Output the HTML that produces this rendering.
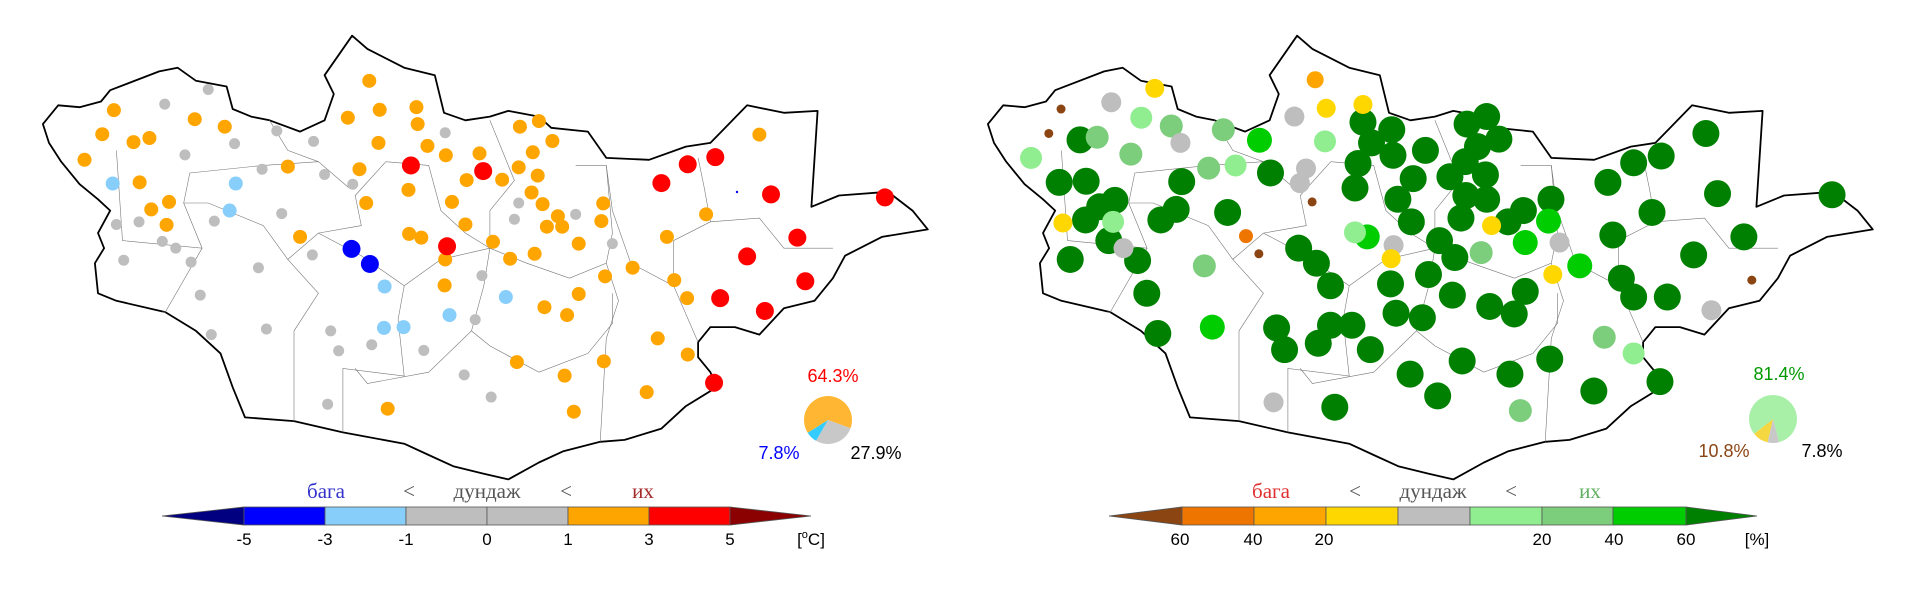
<!DOCTYPE html>
<html><head><meta charset="utf-8">
<style>
html,body{margin:0;padding:0;background:#fff;}
svg{display:block;}
text{font-family:"Liberation Sans",sans-serif;}
.t text{font-family:"Liberation Serif","DejaVu Serif",serif;font-size:21px;}
</style></head>
<body>
<svg id="s" width="1920" height="590" viewBox="0 0 1920 590" xmlns="http://www.w3.org/2000/svg">
<g id="maps"></g>
<g stroke="#555" stroke-width="0.8">
<polygon points="162,516 244,507 244,525" fill="#000080"/>
<rect x="244" y="507" width="81" height="18" fill="#0000FF"/>
<rect x="325" y="507" width="81" height="18" fill="#87CEFA"/>
<rect x="406" y="507" width="81" height="18" fill="#BEBEBE"/>
<rect x="487" y="507" width="81" height="18" fill="#BEBEBE"/>
<rect x="568" y="507" width="81" height="18" fill="#FFA500"/>
<rect x="649" y="507" width="81" height="18" fill="#FF0000"/>
<polygon points="730,507 811,516 730,525" fill="#8B0000"/>
</g>
<g font-size="17" text-anchor="middle" fill="#000">
<text x="244" y="545">-5</text><text x="325" y="545">-3</text><text x="406" y="545">-1</text>
<text x="487" y="545">0</text><text x="568" y="545">1</text><text x="649" y="545">3</text><text x="730" y="545">5</text>
<text x="811" y="545">[<tspan font-size="11" dy="-7">o</tspan><tspan dy="7">C]</tspan></text>
</g>
<g class="t" text-anchor="middle">
<text x="326" y="498" fill="#3333CC">бага</text>
<text x="409" y="498" fill="#555">&lt;</text>
<text x="487" y="498" fill="#555">дундаж</text>
<text x="566" y="498" fill="#555">&lt;</text>
<text x="643" y="498" fill="#A52A2A">их</text>
</g>
<g stroke="#555" stroke-width="0.8">
<polygon points="1109,516 1182,507 1182,525" fill="#8B4513"/>
<rect x="1182" y="507" width="72" height="18" fill="#EE7600"/>
<rect x="1254" y="507" width="72" height="18" fill="#FFA500"/>
<rect x="1326" y="507" width="72" height="18" fill="#FFD700"/>
<rect x="1398" y="507" width="72" height="18" fill="#BEBEBE"/>
<rect x="1470" y="507" width="72" height="18" fill="#90EE90"/>
<rect x="1542" y="507" width="71" height="18" fill="#7CCD7C"/>
<rect x="1613" y="507" width="73" height="18" fill="#00CD00"/>
<polygon points="1686,507 1757,516 1686,525" fill="#008000"/>
</g>
<g font-size="17" text-anchor="middle" fill="#000">
<text x="1180" y="545">60</text><text x="1253" y="545">40</text><text x="1324" y="545">20</text>
<text x="1542" y="545">20</text><text x="1614" y="545">40</text><text x="1686" y="545">60</text>
<text x="1757" y="545">[%]</text>
</g>
<g class="t" text-anchor="middle">
<text x="1271" y="498" fill="#E03030">бага</text>
<text x="1355" y="498" fill="#555">&lt;</text>
<text x="1433" y="498" fill="#555">дундаж</text>
<text x="1511" y="498" fill="#555">&lt;</text>
<text x="1590" y="498" fill="#5FB05F">их</text>
</g>
<g font-size="18" text-anchor="middle">
<text x="833" y="382" fill="#FF0000">64.3%</text>
<text x="779" y="459" fill="#0000FF">7.8%</text>
<text x="876" y="459" fill="#000">27.9%</text>
<text x="1779" y="380" fill="#009900">81.4%</text>
<text x="1724" y="457" fill="#8B4513">10.8%</text>
<text x="1822" y="457" fill="#000">7.8%</text>
</g>
<g id="pies"></g>
</svg>
<script>
var NS="http://www.w3.org/2000/svg";
function el(t,a,p){var e=document.createElementNS(NS,t);for(var k in a)e.setAttribute(k,a[k]);p.appendChild(e);return e;}
var sx=0.6124, sy=0.376;
var ol=[[70,330],[95,280],[130,285],[165,270],[180,240],[260,190],[290,180],[320,215],[370,230],[380,290],[410,310],[440,320],[490,350],[530,320],[545,250],[530,200],[575,95],[600,130],[660,180],[710,200],[725,300],[760,320],[800,310],[830,295],[880,310],[900,340],[960,350],[990,420],[1060,425],[1120,390],[1160,380],[1220,280],[1280,300],[1335,295],[1325,550],[1370,520],[1450,510],[1490,560],[1515,610],[1440,630],[1380,680],[1360,740],[1330,800],[1280,820],[1240,890],[1200,870],[1160,870],[1140,910],[1140,950],[1160,990],[1170,1030],[1120,1080],[1080,1140],[1020,1170],[980,1175],[920,1200],[880,1230],[830,1275],[790,1260],[740,1240],[700,1210],[660,1180],[560,1150],[480,1120],[400,1110],[380,1030],[360,940],[320,880],[270,830],[190,800],[160,780],[155,700],[170,660],[160,620],[180,560],[160,530],[130,490],[100,430],[80,380]];
var inner=[
[[190,400],[200,640],[330,660],[300,540],[340,540],[430,600],[470,690],[520,620],[590,600],[580,520],[630,430]],
[[300,540],[310,460],[430,440],[520,430],[570,500]],
[[440,320],[470,400],[520,430]],
[[330,660],[270,830],[265,830]],
[[470,690],[520,780],[480,880],[480,1120]],
[[520,620],[590,680],[660,760],[650,850],[660,1000],[560,980],[560,1150]],
[[660,760],[720,690],[800,660],[790,760],[770,880],[700,990],[600,1020],[580,980]],
[[630,430],[700,440],[720,560],[760,620],[800,660],[800,560],[840,480],[800,320]],
[[800,660],[860,700],[930,740],[990,700],[1000,620],[990,440],[940,440]],
[[990,700],[1010,800],[990,900],[980,1175]],
[[770,880],[800,920],[880,990],[960,940],[1000,860],[1000,780]],
[[990,440],[1000,560],[1030,700],[1100,760],[1140,910]],
[[1140,420],[1150,500],[1160,590],[1100,640],[1100,760]],
[[1160,590],[1240,580],[1280,660],[1360,660]]
];
function pts(a,dx){return a.map(function(p){return (dx+p[0]*sx).toFixed(1)+","+(p[1]*sy).toFixed(1);}).join(" ");}
var maps=document.getElementById("maps");
[0,945].forEach(function(dx){
 el("polygon",{points:pts(ol,dx),fill:"#fff",stroke:"#000","stroke-width":"1.8","stroke-linejoin":"round"},maps);
 inner.forEach(function(l){el("polyline",{points:pts(l,dx),fill:"none",stroke:"#777","stroke-width":"0.6"},maps);});
});
function dots(list,col,r,ox){list.forEach(function(p){el("circle",{cx:ox+p[0]*sx,cy:p[1]*sy,r:r,fill:col},maps);});}
dots([[603,215],[568,313],[620,292],[680,285],[682,330],[618,380],[698,388],[728,413],[587,450],[470,443],[318,317],[367,337],[186,293],[167,357],[218,378],[244,367],[138,425],[228,485],[276,537],[247,557],[272,598],[490,630],[598,540],[667,505],[738,537],[760,597],[668,622],[688,632],[727,690],[726,759],[783,408],[762,479],[820,478],[849,337],[880,322],[902,375],[870,405],[847,445],[878,467],[868,512],[886,543],[911,575],[893,603],[918,603],[985,541],[982,588],[945,648],[805,643],[873,675],[833,688],[1033,712],[988,735],[1101,745],[1240,358],[1153,570],[1089,630],[1122,793],[945,782],[889,817],[926,838],[1074,900],[1123,943],[986,961],[844,963],[922,999],[1056,1043],[937,1095],[633,1087]],"#FFA500",7,0);
dots([[340,238],[269,277],[452,348],[383,382],[302,412],[512,376],[727,353],[428,450],[530,464],[576,490],[460,568],[350,588],[227,590],[190,597],[265,642],[287,660],[202,692],[312,697],[510,678],[422,712],[847,540],[840,583],[940,570],[1000,648],[787,733],[776,850],[327,785],[345,890],[435,875],[540,880],[553,933],[607,917],[692,932],[758,997],[802,1056],[535,1075]],"#BEBEBE",5.5,0);
dots([[184,488],[385,488],[375,560],[628,762],[826,790],[734,838],[627,872],[659,870]],"#87CEFA",7,0);
dots([[574,662],[604,702]],"#0000FF",9,0);
dots([[671,440],[789,455],[730,655],[1080,487],[1123,437],[1168,418],[1259,517],[1445,525],[1302,632],[1220,682],[1315,748],[1176,793],[1249,827],[1166,1018]],"#FF0000",9,0);
el("circle",{cx:737,cy:192,r:1.2,fill:"#00f"},maps);
var R=960;
dots([[196,372],[162,485],[206,482],[253,533],[228,550],[205,585],[243,640],[180,690],[290,693],[305,780],[323,887],[362,483],[353,557],[328,585],[437,565],[507,460],[658,325],[705,345],[672,380],[707,413],[650,435],[645,500],[760,400],[740,475],[715,530],[737,590],[783,640],[808,685],[765,730],[703,755],[712,833],[755,845],[828,330],[860,310],[880,370],[845,390],[825,430],[858,465],[800,470],[826,520],[860,530],[818,580],[895,590],[920,560],[965,530],[923,775],[865,815],[905,835],[804,785],[820,960],[898,995],[963,955],[1035,1040],[780,1053],[735,995],[670,930],[640,865],[605,865],[585,913],[530,930],[517,872],[553,660],[582,700],[605,760],[612,1083],[1058,485],[1100,433],[1145,415],[1218,355],[1237,515],[1130,565],[1066,625],[1280,630],[1198,678],[1080,740],[1100,790],[1155,790],[1143,1015],[1424,518]],"#008000",13.5,R);
dots([[489,373],[665,630],[923,645],[961,588],[1012,707],[412,870]],"#00CD00",12.5,R);
dots([[116,420],[296,313],[596,376],[450,440],[250,590],[645,618],[1100,940]],"#90EE90",11,R);
dots([[224,365],[345,335],[279,410],[430,345],[406,447],[399,707],[851,672],[1052,897],[915,1092]],"#7CCD7C",11.5,R);
dots([[247,272],[360,380],[546,310],[565,448],[555,487],[267,660],[708,652],[979,645],[1227,825],[512,1070]],"#BEBEBE",10,R);
dots([[318,235],[598,288],[658,278],[168,593],[704,688],[868,600],[968,730]],"#FFD700",9.5,R);
dots([[580,212]],"#FFA500",8.5,R);
dots([[467,628]],"#EE7600",7,R);
dots([[165,290],[145,355],[575,537],[488,675],[1293,745]],"#8B4513",4.5,R);
var pies=document.getElementById("pies");
function wedge(cx,cy,r,a0,a1,col){
 var f=function(a){a=(a-90)*Math.PI/180;return [cx+r*Math.cos(a),cy+r*Math.sin(a)];};
 var p0=f(a0),p1=f(a1),lg=(a1-a0)>180?1:0;
 el("path",{d:"M"+cx+","+cy+"L"+p0[0]+","+p0[1]+"A"+r+","+r+" 0 "+lg+" 1 "+p1[0]+","+p1[1]+"Z",fill:col},pies);
}
wedge(828,420,24,0,110,"#FFB733");wedge(828,420,24,110,210,"#C8C8C8");wedge(828,420,24,210,238,"#33CCFF");wedge(828,420,24,238,360,"#FFB733");
wedge(1773,419,24,0,165,"#A8F0A8");wedge(1773,419,24,165,193,"#C8C8C8");wedge(1773,419,24,193,232,"#F5D742");wedge(1773,419,24,232,360,"#A8F0A8");
</script>
</body></html>
